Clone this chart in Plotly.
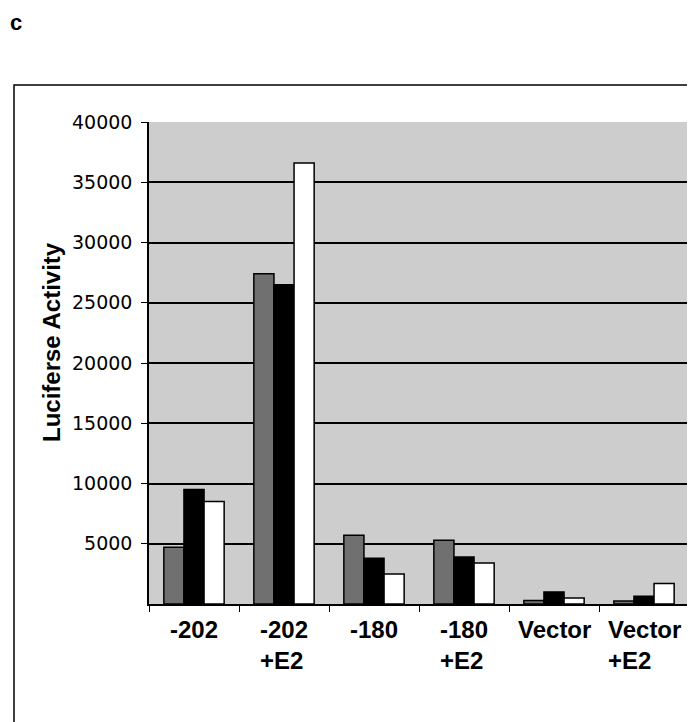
import plotly.graph_objects as go

categories = ["-202", "-202 +E2", "-180", "-180 +E2", "Vector", "Vector +E2"]
cat_labels = ["-202", "-202<br>+E2", "-180", "-180<br>+E2", "Vector", "Vector<br>+E2"]
series_gray = [4700, 27400, 5700, 5300, 300, 250]
series_black = [9500, 26500, 3800, 3900, 1000, 650]
series_white = [8500, 36600, 2500, 3400, 500, 1700]
y_ticks = [5000, 10000, 15000, 20000, 25000, 30000, 35000, 40000]
y_title = "Luciferse Activity"
panel_label = "c"

W, H = 687, 714
L, R, T, B = 141, 6, 114, 118
PW, PH = W - L - R, H - T - B  # 540 x 482

fig = go.Figure()
for vals, col in [(series_gray, "#707070"), (series_black, "#000000"), (series_white, "#ffffff")]:
    fig.add_trace(go.Bar(x=categories, y=vals,
                         marker=dict(color=col, line=dict(color="black", width=1.5)),
                         showlegend=False))

fig.update_layout(
    width=W, height=H,
    margin=dict(l=L, r=R, t=T, b=B),
    paper_bgcolor="white",
    plot_bgcolor="#cdcdcd",
    barmode="group",
    bargap=0.33,
    bargroupgap=0,
    font=dict(family="Liberation Sans, Arial, sans-serif", color="black"),
)
fig.update_xaxes(type="category", range=[-0.5, len(categories) - 0.5],
                 showticklabels=False, ticks="outside", tickson="boundaries", ticklen=6,
                 tickcolor="black", showline=True, linecolor="black", linewidth=1.5,
                 showgrid=False)
fig.update_yaxes(range=[0, 40000], tickvals=y_ticks, ticktext=[str(v) for v in y_ticks],
                 ticks="outside", ticklen=6, tickcolor="black", ticklabelstandoff=5,
                 showline=True, linecolor="black", linewidth=1.5,
                 showgrid=True, gridcolor="black", gridwidth=1.5, zeroline=False,
                 tickfont=dict(size=19, family="DejaVu Sans, sans-serif"))

for i, lab in enumerate(cat_labels):
    fig.add_annotation(x=i, xref="x", y=-10 / PH, yref="paper", text="<b>" + lab + "</b>",
                       showarrow=False, xanchor="center", yanchor="top", align="left",
                       font=dict(size=24))

fig.add_annotation(xref="paper", yref="paper", text="<b>" + y_title + "</b>", showarrow=False,
                   x=(51 - 149) / PW, y=(604 - 342) / PH, textangle=-90,
                   xanchor="center", yanchor="middle", font=dict(size=24))

fig.add_annotation(xref="paper", yref="paper", text="<b>" + panel_label + "</b>", showarrow=False,
                   x=(8 - 149) / PW, y=1 + (122 - 22) / PH,
                   xanchor="left", yanchor="middle", font=dict(size=22))

fig.add_shape(type="rect", xref="paper", yref="paper",
              x0=(14 - 149) / PW, x1=2.0, y0=-0.5, y1=1 + (122 - 85) / PH,
              line=dict(color="black", width=1.5), fillcolor="rgba(0,0,0,0)", layer="below")

fig.write_html("out.html")
